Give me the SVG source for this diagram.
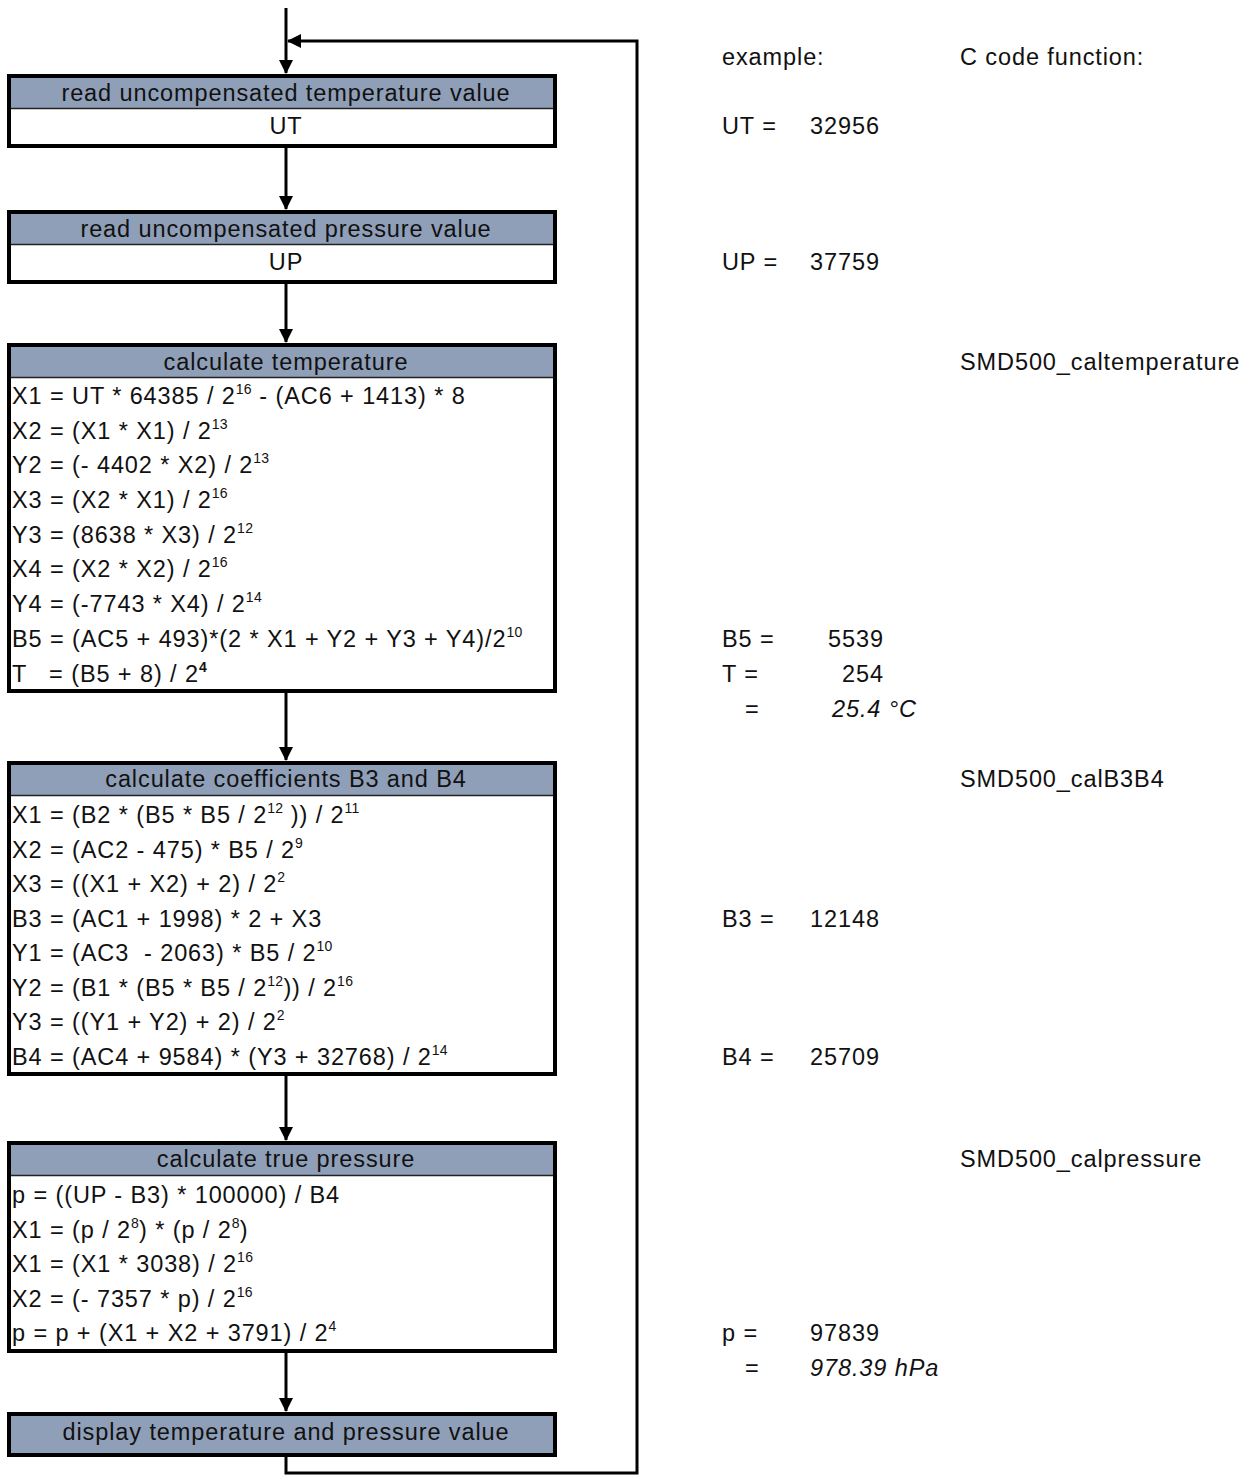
<svg xmlns="http://www.w3.org/2000/svg" width="1255" height="1483" viewBox="0 0 1255 1483">
<style>
text{font-family:"Liberation Sans",Arial,sans-serif;font-size:23.5px;letter-spacing:0.9px;fill:#111}
.c{text-anchor:middle}
.e{text-anchor:end}
.i{font-style:italic}
.frame{fill:#fff;stroke:#000;stroke-width:4}
.hdr{fill:#909fb8}
.sep{stroke:#222;stroke-width:1.5}
.ln{fill:none;stroke:#000;stroke-width:3}
.s{font-size:14px;letter-spacing:0.3px}
</style>
<defs>
<marker id="ah" viewBox="0 0 14 14" refX="13" refY="7" markerWidth="14" markerHeight="14" markerUnits="userSpaceOnUse" orient="auto">
<path d="M0,0 L14,7 L0,14 Z" fill="#000"/>
</marker>
</defs>
<g id="connectors">
<line class="ln" x1="286" y1="8" x2="286" y2="73" marker-end="url(#ah)"/>
<line class="ln" x1="286" y1="148" x2="286" y2="209" marker-end="url(#ah)"/>
<line class="ln" x1="286" y1="284" x2="286" y2="342" marker-end="url(#ah)"/>
<line class="ln" x1="286" y1="693" x2="286" y2="760" marker-end="url(#ah)"/>
<line class="ln" x1="286" y1="1076" x2="286" y2="1140" marker-end="url(#ah)"/>
<line class="ln" x1="286" y1="1353" x2="286" y2="1411" marker-end="url(#ah)"/>
<polyline class="ln" points="286,1457 286,1473 637,1473 637,41 288,41" marker-end="url(#ah)"/>
</g>
<g id="n1">
<rect class="frame" x="9" y="76" width="546" height="70"/>
<rect class="hdr" x="11" y="78" width="542" height="30"/>
<line class="sep" x1="11" y1="108.5" x2="553" y2="108.5"/>
<text class="c" x="286" y="101">read uncompensated temperature value</text>
<text class="c" x="286" y="134">UT</text>
</g>
<g id="n2">
<rect class="frame" x="9" y="212" width="546" height="70"/>
<rect class="hdr" x="11" y="214" width="542" height="30"/>
<line class="sep" x1="11" y1="244.5" x2="553" y2="244.5"/>
<text class="c" x="286" y="237">read uncompensated pressure value</text>
<text class="c" x="286" y="270">UP</text>
</g>
<g id="n3">
<rect class="frame" x="9" y="345" width="546" height="346"/>
<rect class="hdr" x="11" y="347" width="542" height="30"/>
<line class="sep" x1="11" y1="377.5" x2="553" y2="377.5"/>
<text class="c" x="286" y="370">calculate temperature</text>
<text x="12" y="404">X1 = UT * 64385 / 2<tspan class="s" dy="-10">16</tspan><tspan dy="10"> - (AC6 + 1413) * 8</tspan></text>
<text x="12" y="439">X2 = (X1 * X1) / 2<tspan class="s" dy="-10">13</tspan></text>
<text x="12" y="473">Y2 = (- 4402 * X2) / 2<tspan class="s" dy="-10">13</tspan></text>
<text x="12" y="508">X3 = (X2 * X1) / 2<tspan class="s" dy="-10">16</tspan></text>
<text x="12" y="543">Y3 = (8638 * X3) / 2<tspan class="s" dy="-10">12</tspan></text>
<text x="12" y="577">X4 = (X2 * X2) / 2<tspan class="s" dy="-10">16</tspan></text>
<text x="12" y="612">Y4 = (-7743 * X4) / 2<tspan class="s" dy="-10">14</tspan></text>
<text x="12" y="647">B5 = (AC5 + 493)*(2 * X1 + Y2 + Y3 + Y4)/2<tspan class="s" dy="-10">10</tspan></text>
<text x="12" y="682" xml:space="preserve">T   = (B5 + 8) / 2<tspan class="s" dy="-10" font-weight="bold">4</tspan></text>
</g>
<g id="n4">
<rect class="frame" x="9" y="763" width="546" height="311"/>
<rect class="hdr" x="11" y="765" width="542" height="30"/>
<line class="sep" x1="11" y1="795.5" x2="553" y2="795.5"/>
<text class="c" x="286" y="787">calculate coefficients B3 and B4</text>
<text x="12" y="823">X1 = (B2 * (B5 * B5 / 2<tspan class="s" dy="-10">12</tspan><tspan dy="10"> )) / 2</tspan><tspan class="s" dy="-10">11</tspan></text>
<text x="12" y="858">X2 = (AC2 - 475) * B5 / 2<tspan class="s" dy="-10">9</tspan></text>
<text x="12" y="892">X3 = ((X1 + X2) + 2) / 2<tspan class="s" dy="-10">2</tspan></text>
<text x="12" y="927">B3 = (AC1 + 1998) * 2 + X3</text>
<text x="12" y="961" xml:space="preserve">Y1 = (AC3  - 2063) * B5 / 2<tspan class="s" dy="-10">10</tspan></text>
<text x="12" y="996">Y2 = (B1 * (B5 * B5 / 2<tspan class="s" dy="-10">12</tspan><tspan dy="10">)) / 2</tspan><tspan class="s" dy="-10">16</tspan></text>
<text x="12" y="1030">Y3 = ((Y1 + Y2) + 2) / 2<tspan class="s" dy="-10">2</tspan></text>
<text x="12" y="1065">B4 = (AC4 + 9584) * (Y3 + 32768) / 2<tspan class="s" dy="-10">14</tspan></text>
</g>
<g id="n5">
<rect class="frame" x="9" y="1143" width="546" height="208"/>
<rect class="hdr" x="11" y="1145" width="542" height="30"/>
<line class="sep" x1="11" y1="1175.5" x2="553" y2="1175.5"/>
<text class="c" x="286" y="1167">calculate true pressure</text>
<text x="12" y="1203">p = ((UP - B3) * 100000) / B4</text>
<text x="12" y="1238">X1 = (p / 2<tspan class="s" dy="-10">8</tspan><tspan dy="10">) * (p / 2</tspan><tspan class="s" dy="-10">8</tspan><tspan dy="10">)</tspan></text>
<text x="12" y="1272">X1 = (X1 * 3038) / 2<tspan class="s" dy="-10">16</tspan></text>
<text x="12" y="1307">X2 = (- 7357 * p) / 2<tspan class="s" dy="-10">16</tspan></text>
<text x="12" y="1341">p = p + (X1 + X2 + 3791) / 2<tspan class="s" dy="-10">4</tspan></text>
</g>
<g id="n6">
<rect class="frame" x="9" y="1414" width="546" height="41"/>
<rect class="hdr" x="11" y="1416" width="542" height="37"/>
<text class="c" x="286" y="1440">display temperature and pressure value</text>
</g>
<g id="notes">
<text x="722" y="65">example:</text>
<text x="960" y="65">C code function:</text>
<text x="722" y="134">UT =</text>
<text x="810" y="134">32956</text>
<text x="722" y="270">UP =</text>
<text x="810" y="270">37759</text>
<text x="960" y="370">SMD500_caltemperature</text>
<text x="722" y="647">B5 =</text>
<text class="e" x="884" y="647">5539</text>
<text x="722" y="682">T =</text>
<text class="e" x="884" y="682">254</text>
<text x="745" y="717">=</text>
<text class="i" x="832" y="717">25.4 °C</text>
<text x="960" y="787">SMD500_calB3B4</text>
<text x="722" y="927">B3 =</text>
<text x="810" y="927">12148</text>
<text x="722" y="1065">B4 =</text>
<text x="810" y="1065">25709</text>
<text x="960" y="1167">SMD500_calpressure</text>
<text x="722" y="1341">p =</text>
<text x="810" y="1341">97839</text>
<text x="745" y="1376">=</text>
<text class="i" x="810" y="1376">978.39 hPa</text>
</g>
</svg>
